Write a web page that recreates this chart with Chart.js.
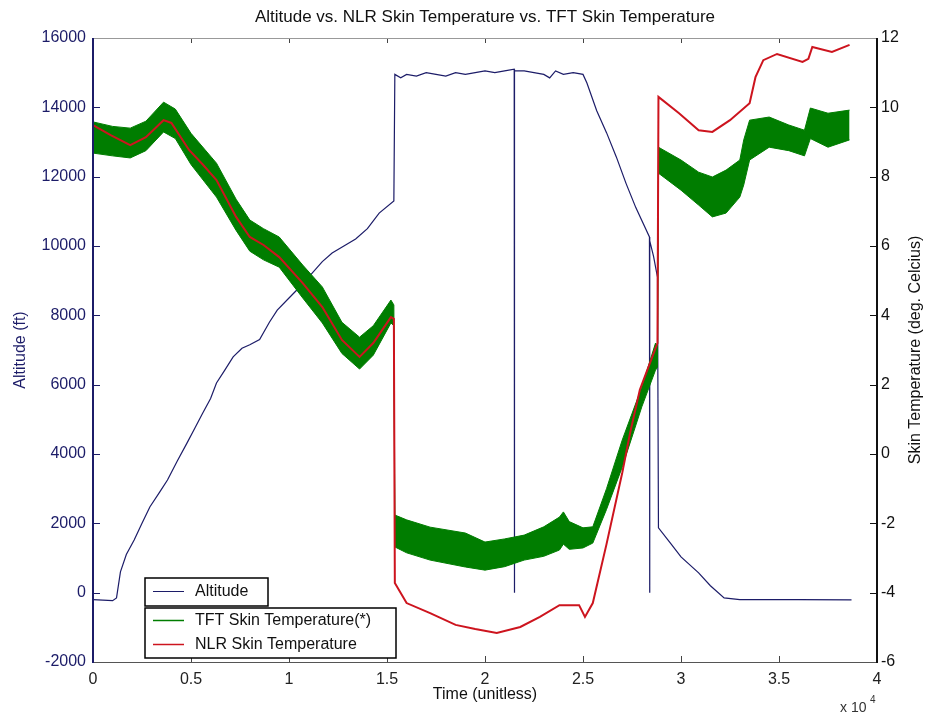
<!DOCTYPE html>
<html>
<head>
<meta charset="utf-8">
<script src="https://cdn.jsdelivr.net/npm/chart.js@4.4.0/dist/chart.umd.min.js"></script>
<style>
body { margin: 0; background: #fff; }
</style>
</head>
<body>
<canvas id="myChart" width="925" height="717"></canvas>
<script>
// altitude (ft) vs time
var altTime = [0, 1000, 1200, 1400, 1700, 2100, 2500, 2900, 3400, 3800, 4300, 4800, 5200, 5600, 6000, 6300, 6700, 7150, 7600, 8000, 8500, 9000, 9400, 10000, 10400, 11000, 11700, 12200, 12800, 13400, 14000, 14600, 15350, 15400, 15700, 16000, 16500, 17000, 17500, 18000, 18500, 19000, 19500, 20000, 20500, 21000, 21490, 21500, 21510, 22000, 22500, 23000, 23300, 23600, 24000, 24500, 25000, 25200, 25700, 26200, 26700, 27200, 27700, 28390, 28400, 28410, 28600, 28800, 28850, 29500, 30000, 30900, 31500, 32200, 33000, 34500, 36000, 38700];
var altitude = [-200, -230, -150, 600, 1100, 1520, 2000, 2470, 2900, 3250, 3800, 4320, 4750, 5180, 5600, 6050, 6400, 6800, 7050, 7150, 7300, 7800, 8150, 8500, 8730, 9100, 9550, 9800, 10000, 10200, 10500, 10950, 11300, 14950, 14850, 14950, 14900, 15000, 14950, 14900, 15000, 14950, 15000, 15050, 15000, 15050, 15100, 0, 15050, 15050, 15000, 14950, 14850, 15050, 14950, 15000, 14950, 14700, 13900, 13270, 12570, 11800, 11100, 10260, 0, 10150, 9700, 9100, 1870, 1400, 1030, 570, 200, -150, -200, -200, -200, -210];

// NLR skin temperature (deg C)
var nlrTime = [0, 900, 1900, 2700, 3600, 4000, 4900, 5600, 6300, 7300, 8000, 8700, 9500, 10700, 11700, 12700, 13600, 14300, 15200, 15350, 15400, 16000, 17200, 18500, 19500, 20600, 21800, 22800, 23800, 24800, 25100, 25500, 26200, 27000, 27400, 27900, 28800, 28850, 29900, 30900, 31600, 32500, 33500, 33800, 34200, 34900, 36200, 36500, 36700, 37700, 38600];
var nlrTemp = [9.49, 9.2, 8.91, 9.14, 9.63, 9.55, 8.77, 8.35, 7.9, 6.84, 6.26, 6.03, 5.68, 4.93, 4.24, 3.29, 2.8, 3.2, 3.95, 3.9, -3.72, -4.3, -4.59, -4.93, -5.05, -5.16, -4.99, -4.7, -4.36, -4.36, -4.7, -4.3, -2.6, -0.55, 0.6, 1.85, 3.2, 10.3, 9.83, 9.34, 9.29, 9.63, 10.12, 10.87, 11.36, 11.54, 11.31, 11.4, 11.74, 11.6, 11.8];

// TFT skin temperature, noisy band: upper and lower edge
var tftTime = [0, 1000, 1900, 2700, 3600, 4200, 5000, 6300, 7300, 8000, 8700, 9500, 10700, 11700, 12700, 13600, 14300, 15200, 15350, 15400, 16000, 17200, 19000, 20000, 21000, 22000, 23000, 23800, 24000, 24300, 25000, 25500, 26200, 27000, 28000, 28700, 28800, 28850, 30000, 30900, 31600, 32300, 33000, 33200, 33500, 34500, 35500, 36300, 36600, 37500, 38600];
var tftHigh = [9.58, 9.45, 9.4, 9.6, 10.15, 9.95, 9.25, 8.39, 7.35, 6.75, 6.5, 6.26, 5.45, 4.82, 3.8, 3.37, 3.7, 4.44, 4.3, -1.76, -1.9, -2.11, -2.28, -2.54, -2.45, -2.34, -2.1, -1.82, -1.67, -1.95, -2.13, -2.1, -1.0, 0.4, 1.93, 3.2, 3.1, 8.85, 8.48, 8.13, 7.99, 8.19, 8.48, 9.06, 9.63, 9.72, 9.49, 9.34, 9.98, 9.83, 9.92];
var tftLow = [8.68, 8.6, 8.54, 8.75, 9.29, 9.1, 8.35, 7.41, 6.45, 5.85, 5.6, 5.39, 4.5, 3.78, 2.9, 2.45, 2.85, 3.78, 3.7, -2.68, -2.85, -3.06, -3.26, -3.35, -3.25, -3.06, -2.95, -2.77, -2.6, -2.75, -2.71, -2.57, -1.6, -0.38, 1.36, 2.42, 2.5, 8.1, 7.61, 7.18, 6.84, 6.95, 7.41, 7.76, 8.48, 8.85, 8.75, 8.6, 9.1, 8.85, 9.06];

var xTickLabels = ['0', '0.5', '1', '1.5', '2', '2.5', '3', '3.5', '4'];
var legendNames = ['Altitude', 'TFT Skin Temperature(*)', 'NLR Skin Temperature'];

var fontFam = '"Liberation Sans", Arial, Helvetica, sans-serif';
var navy = 'rgb(28,28,104)';
var green = 'rgb(0,125,0)';
var red = 'rgb(205,20,30)';

function pts(xs, ys) {
  var out = [];
  for (var i = 0; i < xs.length; i++) out.push({x: xs[i], y: ys[i]});
  return out;
}

function line(c, x1, y1, x2, y2) {
  c.beginPath(); c.moveTo(x1, y1); c.lineTo(x2, y2); c.stroke();
}

var frame = {
  id: 'frame',
  afterDraw: function(chart) {
    var c = chart.ctx, a = chart.chartArea;
    var sx = chart.scales.x, sl = chart.scales.y, sr = chart.scales.y2;
    c.save();
    c.lineWidth = 1;

    // inward ticks
    c.strokeStyle = '#444';
    sx.ticks.forEach(function(t) {
      var px = Math.round(sx.getPixelForValue(t.value)) + 0.5;
      line(c, px, a.bottom, px, a.bottom - 6);
      line(c, px, a.top, px, a.top + 5);
    });
    c.strokeStyle = navy;
    sl.ticks.forEach(function(t) {
      var py = Math.round(sl.getPixelForValue(t.value)) + 0.5;
      line(c, a.left, py, a.left + 7, py);
    });
    c.strokeStyle = '#111';
    sr.ticks.forEach(function(t) {
      var py = Math.round(sr.getPixelForValue(t.value)) + 0.5;
      line(c, a.right - 7, py, a.right, py);
    });

    // box
    c.strokeStyle = '#999';
    line(c, a.left, a.top + 0.5, a.right, a.top + 0.5);
    c.strokeStyle = '#555';
    line(c, a.left, a.bottom + 0.5, a.right, a.bottom + 0.5);
    c.lineWidth = 2;
    c.strokeStyle = navy;
    line(c, a.left, a.top, a.left, a.bottom + 1);
    c.strokeStyle = '#111';
    line(c, a.right, a.top, a.right, a.bottom + 1);

    // title
    c.fillStyle = '#111';
    c.font = '17px ' + fontFam;
    c.textAlign = 'center';
    c.textBaseline = 'middle';
    c.fillText('Altitude vs. NLR Skin Temperature vs. TFT Skin Temperature', (a.left + a.right) / 2, 17);

    // right axis title (reads bottom to top)
    c.save();
    c.translate(916, (a.top + a.bottom) / 2);
    c.rotate(-Math.PI / 2);
    c.font = '16px ' + fontFam;
    c.fillText('Skin Temperature (deg. Celcius)', 0, 0);
    c.restore();

    // x 10^4
    c.textAlign = 'left';
    c.font = '14px ' + fontFam;
    c.fillStyle = '#333';
    c.fillText('x 10', 840, 708);
    c.font = '10px ' + fontFam;
    c.fillText('4', 870, 700);

    // legend boxes
    c.lineWidth = 1.5;
    c.strokeStyle = '#000';
    c.fillStyle = '#fff';
    c.fillRect(145, 578, 123, 28);
    c.strokeRect(145, 578, 123, 28);
    c.fillRect(145, 608, 251, 50);
    c.strokeRect(145, 608, 251, 50);
    var rows = [[591, navy, 1], [620, green, 1.5], [644, red, 1.5]];
    c.font = '16px ' + fontFam;
    c.textBaseline = 'middle';
    for (var i = 0; i < rows.length; i++) {
      c.strokeStyle = rows[i][1];
      c.lineWidth = rows[i][2];
      line(c, 153, rows[i][0] + 0.5, 184, rows[i][0] + 0.5);
      c.fillStyle = '#111';
      c.fillText(legendNames[i], 195, rows[i][0] + 1);
    }
    c.restore();
  }
};

new Chart(document.getElementById('myChart').getContext('2d'), {
  type: 'line',
  data: {
    datasets: [{
      label: legendNames[2],
      data: pts(nlrTime, nlrTemp),
      yAxisID: 'y2',
      borderColor: red,
      borderWidth: 2,
      fill: false
    }, {
      label: legendNames[1] + ' high',
      data: pts(tftTime, tftHigh),
      yAxisID: 'y2',
      borderColor: green,
      borderWidth: 1,
      fill: false
    }, {
      label: legendNames[1] + ' low',
      data: pts(tftTime, tftLow),
      yAxisID: 'y2',
      borderColor: green,
      backgroundColor: green,
      borderWidth: 1,
      fill: '-1'
    }, {
      label: legendNames[0],
      data: pts(altTime, altitude),
      yAxisID: 'y',
      borderColor: navy,
      borderWidth: 1.2,
      fill: false
    }]
  },
  options: {
    responsive: false,
    animation: false,
    elements: { point: { radius: 0 }, line: { tension: 0 } },
    layout: { padding: { top: 38, left: 0, right: 0, bottom: 0 } },
    plugins: {
      legend: { display: false },
      tooltip: { enabled: false },
      title: { display: false }
    },
    scales: {
      x: {
        type: 'linear',
        min: 0,
        max: 40000,
        afterFit: function(s) { s.height = 55; },
        grid: { display: false, drawTicks: false },
        border: { display: false },
        ticks: {
          stepSize: 5000,
          padding: 8,
          color: '#222',
          font: { family: fontFam, size: 16 },
          callback: function(v, i) { return xTickLabels[i]; }
        },
        title: {
          display: true,
          text: 'Time (unitless)',
          color: '#111',
          font: { family: fontFam, size: 16 },
          padding: { top: 0, bottom: 13 }
        }
      },
      y: {
        position: 'left',
        min: -2000,
        max: 16000,
        afterFit: function(s) { s.width = 93; },
        grid: { display: false, drawTicks: false },
        border: { display: false },
        ticks: {
          stepSize: 2000,
          padding: 7,
          color: navy,
          font: { family: fontFam, size: 16 },
          callback: function(v) { return String(v); }
        },
        title: {
          display: true,
          text: 'Altitude (ft)',
          color: navy,
          font: { family: fontFam, size: 16 },
          padding: { top: 11, bottom: 0 }
        }
      },
      y2: {
        position: 'right',
        min: -6,
        max: 12,
        afterFit: function(s) { s.width = 48; },
        grid: { display: false, drawTicks: false },
        border: { display: false },
        ticks: {
          stepSize: 2,
          padding: 4,
          color: '#111',
          font: { family: fontFam, size: 16 },
          callback: function(v) { return String(v); }
        }
      }
    }
  },
  plugins: [frame]
});
</script>
</body>
</html>
